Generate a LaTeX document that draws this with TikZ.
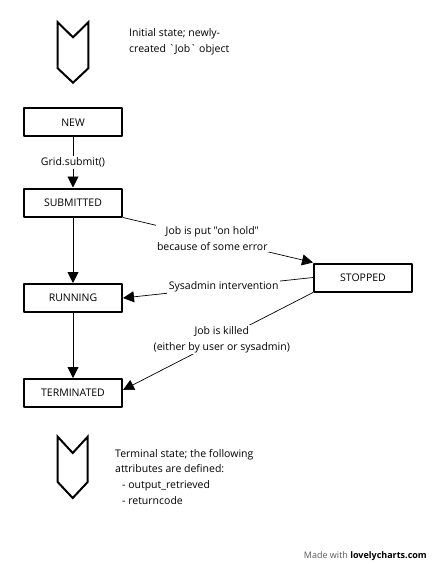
\documentclass[tikz,border=0pt]{standalone}
\usepackage{fontspec}
\newfontfamily\chartfont{Open Sans}
\usetikzlibrary{arrows.meta}
\tikzset{
  state/.style={draw,line width=2bp,minimum width=98bp,minimum height=28bp,inner sep=0pt,font=\chartfont\fontsize{10.5bp}{12bp}\selectfont},
  edgelabel/.style={fill=white,align=center,inner sep=1.5bp,font=\chartfont\fontsize{10.5bp}{16bp}\selectfont},
  note/.style={align=left,anchor=north west,inner sep=0pt,font=\chartfont\fontsize{10.5bp}{15.6bp}\selectfont},
  chevron/.style={line width=2bp,line join=miter},
}
\begin{document}
\begin{tikzpicture}[x=1bp,y=-1bp,>={Triangle[width=11bp,length=11bp]},line join=bevel]
\useasboundingbox (0,0) rectangle (435,564);
%%
\draw [chevron] (57.7,22.3) -- (73,37.3) -- (88.3,22.3) -- (88.3,68.3) -- (73,82.7) -- (57.7,68.3) -- cycle;
\node (note_start) at (129,28.5) [note] {Initial state; newly-\\created `Job` object};
%
\node (state_new) at (73,122.5) [state] {NEW};
  \node (state_submitted) at (73,202.5) [state] {SUBMITTED};
  \node (state_running) at (73,298) [state] {RUNNING};
  \node (state_terminated) at (73,393) [state] {TERMINATED};
  \node (state_stopped) at (363,277.5) [state] {STOPPED};
%
\draw [black,line width=0.9bp,->] (state_new) -- node [edgelabel] {Grid.submit()} (state_submitted);
  \draw [black,line width=0.9bp,->] (state_submitted) -- (state_running);
  \draw [black,line width=0.9bp,->] (state_running) -- (state_terminated);
  \draw [black,line width=0.7bp,->] (state_submitted.south east) -- node [edgelabel,pos=0.47] {Job is put "on hold"\\because of some error} (state_stopped.north west);
  \draw [black,line width=0.7bp,->] (state_stopped.west) -- node [edgelabel,pos=0.47] {Sysadmin intervention} (state_running.east);
  \draw [black,line width=0.7bp,->] (state_stopped.south west) -- node [edgelabel,pos=0.48] {Job is killed\\(either by user or sysadmin)} ([yshift=3bp]state_terminated.east);
%
\draw [chevron] (57.7,436.7) -- (72.7,453) -- (87.7,436.7) -- (87.7,482) -- (72.7,498) -- (57.7,482) -- cycle;
\node (note_end) at (115,449) [note] {Terminal state; the following\\attributes are defined:\\\hspace*{7bp}- output\_retrieved\\\hspace*{7bp}- returncode};
%
\node (credit) at (427,556) [anchor=east,inner sep=0pt,font=\chartfont\fontsize{9bp}{10bp}\selectfont] {\textcolor{black!65}{Made with} \textbf{lovelycharts.com}};
\end{tikzpicture}
\end{document}
